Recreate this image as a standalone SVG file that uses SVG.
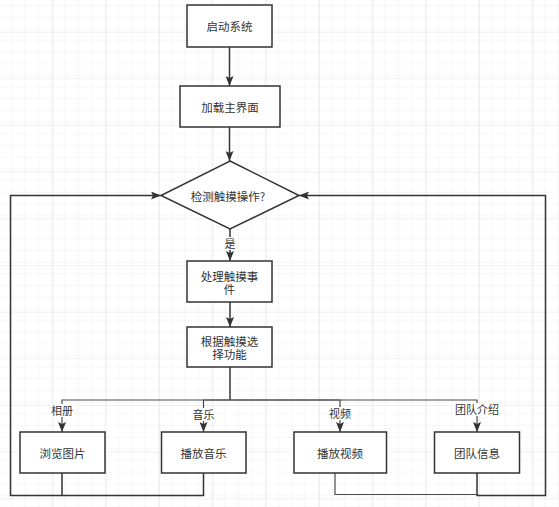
<svg xmlns="http://www.w3.org/2000/svg" width="559" height="507" viewBox="0 0 559 507">
<style>
.box{fill:#ffffff;stroke:#333333;stroke-width:1.5}
.t{font-family:"Noto Sans CJK SC","Liberation Sans",sans-serif;font-size:11.5px;fill:#333333;text-anchor:middle;dominant-baseline:central}
.lt{font-family:"Noto Sans CJK SC","Liberation Sans",sans-serif;font-size:11px;fill:#333333;text-anchor:middle;dominant-baseline:central}
.e{fill:none;stroke:#333333;stroke-width:1.5}
.b{fill:none;stroke:#4a4a4a;stroke-width:1.2}
.lb{fill:#ffffff}
</style>
<defs>
<pattern id="minor" x="-1" y="-15" width="13.333" height="11.667" patternUnits="userSpaceOnUse">
<path d="M0,0 V11.667 M0,0 H13.333" fill="none" stroke="#eeeeee" stroke-width="1"/>
</pattern>
<pattern id="major" x="-1" y="-15" width="53.333" height="46.667" patternUnits="userSpaceOnUse">
<rect width="53.333" height="46.667" fill="url(#minor)"/>
<path d="M0,0 V46.667 M0,0 H53.333" fill="none" stroke="#e2e2e2" stroke-width="1"/>
</pattern>
<marker id="arr" viewBox="0 0 10 8" refX="10" refY="4" markerWidth="10" markerHeight="8" markerUnits="userSpaceOnUse" orient="auto">
<path d="M0,0 L10,4 L0,8 L2,4 Z" fill="#333333"/>
</marker>
</defs>
<rect width="559" height="507" fill="#ffffff"/>
<rect x="-1" y="-15" width="561" height="523" fill="url(#major)"/>

<g id="connectors">
<path class="e" d="M229.5,47 V86" marker-end="url(#arr)"/>
<path class="e" d="M229.5,127 V161" marker-end="url(#arr)"/>
<path class="e" d="M230,229 V261" marker-end="url(#arr)"/>
<path class="e" d="M230,302 V327" marker-end="url(#arr)"/>
<path class="e" d="M230,367 V400"/>
<path class="b" d="M230,400 H62 V432" marker-end="url(#arr)"/>
<path class="b" d="M230,400 H203.5 V432" marker-end="url(#arr)"/>
<path class="b" d="M230,400 H340 V432" marker-end="url(#arr)"/>
<path class="b" d="M230,400 H477 V432" marker-end="url(#arr)"/>
<path class="e" d="M62,473 V495.5 H10.5 V195.5 H161" marker-end="url(#arr)"/>
<path class="e" d="M203.5,473 V495.5 H62"/>
<path class="b" d="M335,473 V494.5 H477"/>
<path class="e" d="M477,473 V495.5 H545.5 V195.5 H299" marker-end="url(#arr)"/>
<rect class="lb" x="222" y="237" width="16" height="13"/>
<text class="lt" x="230" y="243">是</text>
<rect class="lb" x="50" y="404" width="24" height="13"/>
<text class="lt" x="62" y="410">相册</text>
<rect class="lb" x="191.5" y="408" width="24" height="13"/>
<text class="lt" x="203.5" y="414">音乐</text>
<rect class="lb" x="328" y="407" width="24" height="13"/>
<text class="lt" x="340" y="413">视频</text>
<rect class="lb" x="454" y="403" width="46" height="13"/>
<text class="lt" x="477" y="409">团队介绍</text>
</g>

<g id="n-start">
<rect class="box" x="187" y="5" width="85" height="42"/>
<text class="t" x="229.5" y="26">启动系统</text>
</g>
<g id="n-load">
<rect class="box" x="180" y="86" width="100" height="41"/>
<text class="t" x="230" y="106.5">加载主界面</text>
</g>
<g id="n-detect">
<polygon class="box" points="230,161 299,195.5 230,229 161,195.5"/>
<text class="t" x="228" y="195.5">检测触摸操作?</text>
</g>
<g id="n-handle">
<rect class="box" x="187" y="261" width="85" height="41"/>
<text class="t" x="229.5" y="275.5">处理触摸事</text>
<text class="t" x="229.5" y="288.5">件</text>
</g>
<g id="n-select">
<rect class="box" x="187" y="327" width="85" height="40"/>
<text class="t" x="229.5" y="340.5">根据触摸选</text>
<text class="t" x="229.5" y="353.5">择功能</text>
</g>
<g id="n-photo">
<rect class="box" x="20" y="432" width="85" height="41"/>
<text class="t" x="62.5" y="452.5">浏览图片</text>
</g>
<g id="n-music">
<rect class="box" x="161.5" y="432" width="84.5" height="41"/>
<text class="t" x="203.5" y="452.5">播放音乐</text>
</g>
<g id="n-video">
<rect class="box" x="294" y="432" width="92.5" height="41"/>
<text class="t" x="340" y="452.5">播放视频</text>
</g>
<g id="n-team">
<rect class="box" x="434.5" y="432" width="85" height="41"/>
<text class="t" x="477" y="452.5">团队信息</text>
</g>
</svg>
